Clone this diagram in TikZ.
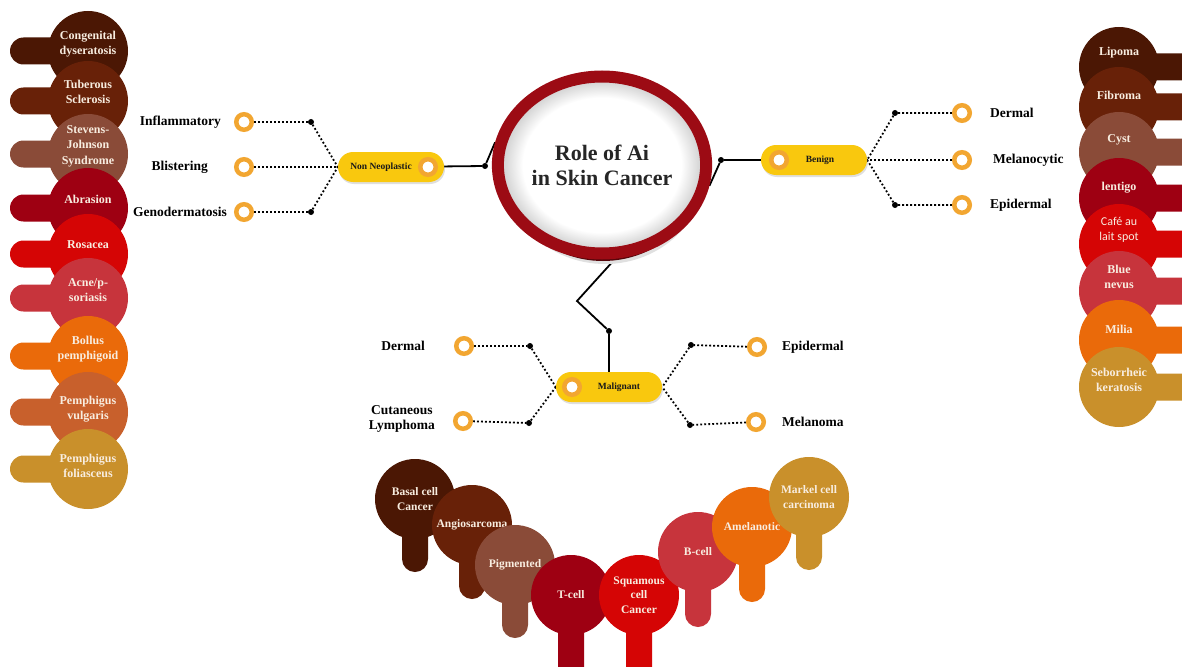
\documentclass[tikz,border=0pt]{standalone}
\usepackage{fontspec}
\setmainfont{Liberation Serif}
\newfontfamily\calib{Carlito}
\usetikzlibrary{positioning,shapes.geometric,shadows,backgrounds}
\definecolor{choco}{HTML}{4B1704}
\definecolor{rust}{HTML}{682108}
\definecolor{mocha}{HTML}{8A4B38}
\definecolor{wine}{HTML}{9E0012}
\definecolor{scarlet}{HTML}{D50505}
\definecolor{rose}{HTML}{C7343C}
\definecolor{tangerine}{HTML}{EA6A0A}
\definecolor{copper}{HTML}{C8602C}
\definecolor{ochre}{HTML}{C9902B}
\definecolor{cream}{HTML}{F8EDE0}
\definecolor{pillgold}{HTML}{F9C80E}
\definecolor{ringor}{HTML}{F2A631}
\definecolor{hubred}{HTML}{9C0B14}
\pgfdeclareradialshading{hubglow}{\pgfpoint{0bp}{0bp}}{color(0bp)=(white); color(19bp)=(white); color(25bp)=(black!22); color(50bp)=(black!22)}

\begin{document}
\begin{tikzpicture}[
  x=1pt, y=-1pt,
  bub/.style={circle, minimum size=80pt, inner sep=0pt},
  bubtext/.style={text=cream, font=\bfseries\fontsize{12}{15.5}\selectfont, align=center, inner sep=0pt},
  lowtext/.style={bubtext, font=\bfseries\fontsize{11.5}{14.5}\selectfont},
  pill/.style={rectangle, rounded corners=15pt, fill=pillgold, minimum width=106pt, minimum height=30pt,
    drop shadow={opacity=0.25, shadow xshift=1pt, shadow yshift=-2pt}},
  pilltext/.style={font=\bfseries\fontsize{9.5}{11}\selectfont, text=black!90, inner sep=0pt},
  knob/.style={circle, draw=ringor, line width=4.5pt, fill=white, minimum size=15.5pt, inner sep=0pt},
  dot/.style={circle, fill=black, minimum size=6pt, inner sep=0pt},
  wire/.style={line width=1.8pt},
  dotline/.style={line width=1.8pt, dash pattern=on 1.8pt off 2.2pt},
  leaf/.style={font=\bfseries\fontsize{13.5}{15}\selectfont, inner sep=0pt, align=center}
  ]
  \useasboundingbox (0,0) rectangle (1182,666);
  \begin{scope}[on background layer]
    \fill[white] (0,0) rectangle (1182,666);
  \end{scope}
  \newcommand{\leftbub}[5]{%
    \fill[#4, rounded corners=13.5pt] (10,#2-13.5) rectangle (88,#2+13.5);
    \node[bub, fill=#4] (#1) at (88,#2) {};
    \node[bubtext] (#1txt) at (88,#3) {#5};
  }
  \newcommand{\rightbub}[5]{%
    \fill[#4, rounded corners=13.5pt] (1119,#2-13.5) rectangle (1200,#2+13.5);
    \node[bub, fill=#4] (#1) at (1119,#2) {};
    \node[bubtext] (#1txt) at (1119,#3) {#5};
  }
  \newcommand{\lowbub}[6]{%
    \fill[#5, rounded corners=13pt] (#2-13,#3) rectangle (#2+13,#4);
    \node[bub, fill=#5] (#1) at (#2,#3) {};
    \node[lowtext] (#1txt) at (#2,#3) {#6};
  }

  \leftbub{congen}{51}{44}{choco}{Congenital\\dyseratosis}
  \leftbub{tuber}{101}{92}{rust}{Tuberous\\Sclerosis}
  \leftbub{stevens}{154}{146}{mocha}{Stevens-\\Johnson\\Syndrome}
  \leftbub{abras}{208}{199}{wine}{Abrasion}
  \leftbub{rosac}{254}{245}{scarlet}{Rosacea}
  \leftbub{acne}{298}{290}{rose}{Acne/p-\\soriasis}
  \leftbub{bollus}{356}{349}{tangerine}{Bollus\\pemphigoid}
  \leftbub{pvulg}{412}{409}{copper}{Pemphigus\\vulgaris}
  \leftbub{pfoli}{469}{466}{ochre}{Pemphigus\\foliasceus}

  \rightbub{lipoma}{67}{53}{choco}{Lipoma}
  \rightbub{fibroma}{107}{95}{rust}{Fibroma}
  \rightbub{cyst}{152}{140}{mocha}{Cyst}
  \rightbub{lentigo}{198}{188}{wine}{lentigo}
  \rightbub{cafe}{244}{230}{scarlet}{{\calib\mdseries Café au}\\{\calib\mdseries lait spot}}
  \rightbub{bluenev}{291}{277}{rose}{Blue\\nevus}
  \rightbub{milia}{340}{329}{tangerine}{Milia}
  \rightbub{sebor}{387}{380}{ochre}{Seborrheic\\keratosis}

  \lowbub{basal}{415}{499}{572}{choco}{Basal cell\\Cancer}
  \lowbub{angio}{472}{525}{599}{rust}{Angiosarcoma}
  \lowbub{pigment}{515}{565}{638}{mocha}{Pigmented}
  \lowbub{tcell}{571}{595}{700}{wine}{T-cell}
  \lowbub{squam}{639}{595}{700}{scarlet}{Squamous\\cell\\Cancer}
  \lowbub{bcell}{698}{552}{627}{rose}{B-cell}
  \lowbub{amel}{752}{527}{602}{tangerine}{Amelanotic}
  \lowbub{markel}{809}{497}{570}{ochre}{Markel cell\\carcinoma}

  \fill[black!12] (605,168) ellipse [x radius=101, y radius=96];
  \fill[hubred!55!black] (603,166) ellipse [x radius=100, y radius=95];
  \node[ellipse, minimum width=187pt, minimum height=177pt, draw=hubred, line width=12pt,
    shade, shading=hubglow, align=center, text=black!85,
    font=\bfseries\fontsize{22}{25}\selectfont] (hub) at (602,165) {Role of Ai\\in Skin Cancer};

  \node[pill] (nonneo) at (391,167) {};
  \node[pilltext] (nonneotxt) at (381,167) {Non Neoplastic};
  \node[knob] (nonneoknob) at (428,167) {};
  \node[dot] (nonneodot) at (485,166) {};

  \node[pill] (benign) at (814,160) {};
  \node[pilltext] (benigntxt) at (820,160) {Benign};
  \node[knob] (benignknob) at (779,160) {};
  \node[dot] (benigndot) at (721,160) {};

  \node[pill] (malig) at (609,387) {};
  \node[pilltext] (maligtxt) at (619,387) {Malignant};
  \node[knob] (maligknob) at (572,387) {};
  \node[dot] (maligdot) at (609,331) {};
  \coordinate (maligbend) at (577,301);

  \node[knob] (infl) at (244,122) {};
  \node[knob] (blis) at (244,167) {};
  \node[knob] (geno) at (244,212) {};
  \node[dot] (infldot) at (311,122) {};
  \node[dot] (genodot) at (311,212) {};
  \node[leaf, left=13pt of infl] (infllbl) {Inflammatory};
  \node[leaf, left=26pt of blis] (blislbl) {Blistering};
  \node[leaf, left=7pt of geno] (genolbl) {Genodermatosis};

  \node[knob] (bderm) at (962,113) {};
  \node[knob] (bmelano) at (962,160) {};
  \node[knob] (bepid) at (962,205) {};
  \node[dot] (bdermdot) at (895,113) {};
  \node[dot] (bepiddot) at (895,205) {};
  \node[leaf, right=18pt of bderm] (bdermlbl) {Dermal};
  \node[leaf, right=21pt of bmelano] (bmelanolbl) {Melanocytic};
  \node[leaf, right=18pt of bepid] (bepidlbl) {Epidermal};

  \node[knob] (mderm) at (464,346) {};
  \node[knob] (mlymph) at (463,421) {};
  \node[knob] (mepid) at (757,347) {};
  \node[knob] (mmela) at (756,422) {};
  \node[dot] (mdermdot) at (530,346) {};
  \node[dot] (mlymphdot) at (529,423) {};
  \node[dot] (mepiddot) at (691,345) {};
  \node[dot] (mmeladot) at (690,425) {};
  \node[leaf, left=29pt of mderm] (mdermlbl) {Dermal};
  \node[leaf, left=18pt of mlymph, yshift=2pt] (mlymphlbl) {Cutaneous\\Lymphoma};
  \node[leaf, right=15pt of mepid] (mepidlbl) {Epidermal};
  \node[leaf, right=16pt of mmela] (mmelalbl) {Melanoma};

  \begin{scope}[on background layer]
    \draw[wire] (nonneo) -- (nonneodot) -- (hub.168);
    \draw[wire] (benign) -- (benigndot) -- (hub.-11);
    \draw[wire] (malig) -- (maligdot) -- (maligbend) -- (hub.-82);
    \draw[dotline] (infl) -- (infldot) -- (nonneo.west);
    \draw[dotline] (blis) -- (nonneo);
    \draw[dotline] (geno) -- (genodot) -- (nonneo.west);
    \draw[dotline] (bderm) -- (bdermdot) -- (benign.east);
    \draw[dotline] (bmelano) -- (benign);
    \draw[dotline] (bepid) -- (bepiddot) -- (benign.east);
    \draw[dotline] (mderm) -- (mdermdot) -- (malig.west);
    \draw[dotline] (mlymph) -- (mlymphdot) -- (malig.west);
    \draw[dotline] (mepid) -- (mepiddot) -- (malig.east);
    \draw[dotline] (mmela) -- (mmeladot) -- (malig.east);
  \end{scope}
\end{tikzpicture}
\end{document}
